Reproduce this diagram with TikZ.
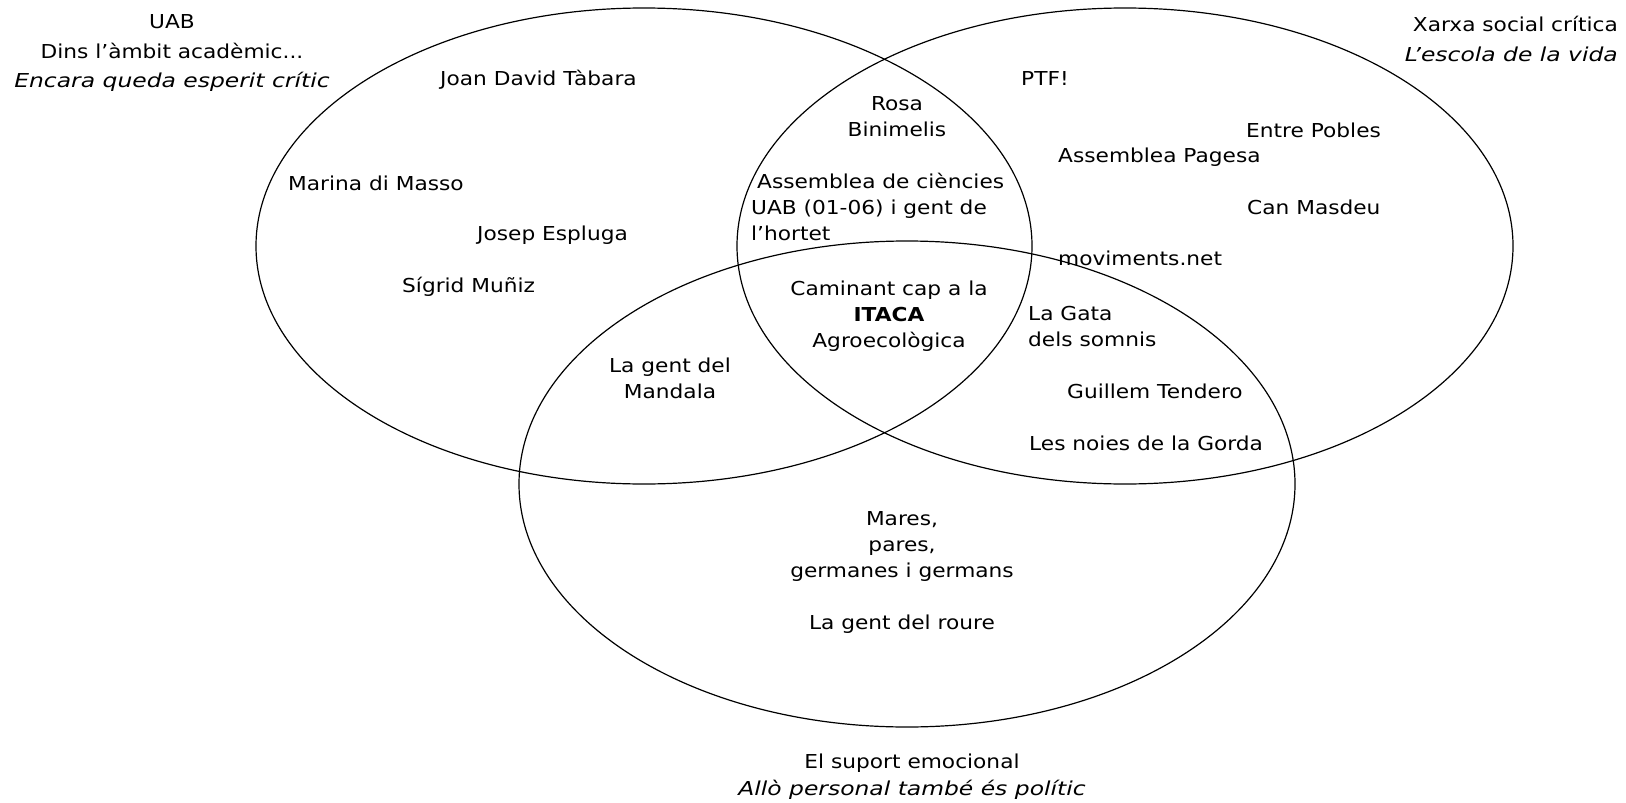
\documentclass[tikz,border=0pt]{standalone}
\usepackage{fontspec}
\setmainfont{DejaVu Sans}[FakeStretch=1.13,ItalicFeatures={FakeStretch=1.22}]
\usetikzlibrary{shapes.geometric}

\begin{document}
\begin{tikzpicture}[line cap=round,line join=round,x=1pt,y=-1pt,
  every node/.style={inner sep=0pt,font=\fontsize{19.2}{26}\selectfont},
  venn/.style={draw,ellipse,line width=1.2pt,minimum width=776pt,minimum height=476pt},
  lbl/.style={anchor=west},
  title/.style={align=center,font=\fontsize{19.2}{29.5}\selectfont}]
  \useasboundingbox (0,0) rectangle (1626,803);
  % the three circles
  \node[venn] (uab) at (644,246) {};
  \node[venn] (xarxa) at (1125,246) {};
  \node[venn,minimum height=486pt] (suport) at (907,484) {};
  % titles
  \node[title] (tuab) at (172,53) {UAB\\Dins l'àmbit acadèmic...\\\textit{Encara queda esperit crític}};
  \node[title,align=right,anchor=east] (txarxa) at (1618,39) {Xarxa social crítica\\\textit{L'escola de la vida}};
  \node[title,font=\fontsize{19.2}{27}\selectfont] (tsuport) at (912,777) {El suport emocional\\\textit{Allò personal també és polític}};
  % single names
  \foreach \px/\py/\nm/\txt in {440/80/tabara/Joan David Tàbara,288/183/masso/Marina di Masso,
      477/235/espluga/Josep Espluga,402/287/muniz/Sígrid Muñiz,1021/79/ptf/PTF!,
      1246/130/pobles/Entre Pobles,1058/157/pagesa/Assemblea Pagesa,1247/207/masdeu/Can Masdeu,
      1058/258/moviments/moviments.net,1067/391/tendero/Guillem Tendero,1029/443/gorda/Les noies de la Gorda}
    \node[lbl] (\nm) at (\px,\py) {\txt};
  % groups
  \node[align=center] (rosa) at (897,117) {Rosa\\Binimelis};
  \node[lbl,align=left] (ciencies) at (751,207) {\hspace*{6pt}Assemblea de ciències\\UAB (01-06) i gent de\\l'hortet};
  \node[align=center] (itaca) at (889,316) {Caminant cap a la\\\textbf{ITACA}\\Agroecològica};
  \node[lbl,align=left] (gata) at (1028,327) {La Gata\\dels somnis};
  \node[align=center] (mandala) at (670,378) {La gent del\\Mandala};
  \node[align=center] (familia) at (902,572) {Mares,\\pares,\\germanes i germans\\[26pt]La gent del roure};
\end{tikzpicture}
\end{document}
